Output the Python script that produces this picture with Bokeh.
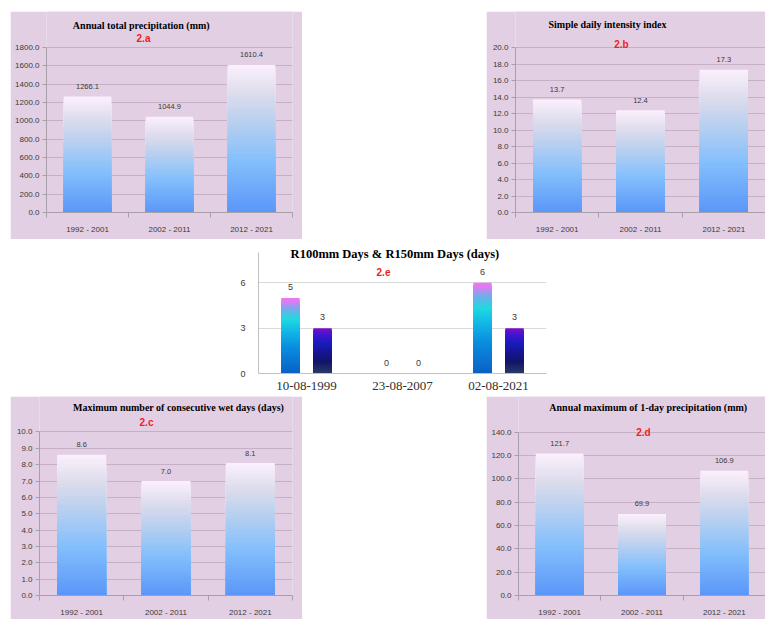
from bokeh.plotting import figure
from bokeh.layouts import column, row, Spacer
from bokeh.models import (ColumnDataSource, FixedTicker, PrintfTickFormatter,
                          Range1d, Label, LabelSet)
from bokeh.core.properties import value
from bokeh.embed import file_html
from bokeh.resources import INLINE

# ---------------- data ----------------
periods = ["1992 - 2001", "2002 - 2011", "2012 - 2021"]
prcptot = [1266.1, 1044.9, 1610.4]
sdii = [13.7, 12.4, 17.3]
cwd = [8.6, 7.0, 8.1]
rx1day = [121.7, 69.9, 106.9]

event_dates = ["10-08-1999", "23-08-2007", "02-08-2021"]
r100 = [5, 0, 6]
r150 = [3, 0, 3]

# ---------------- style ----------------
PANEL_BG = "#e3cfe3"
GRID = "#c6b0c6"
AXIS = "#a8a0a8"
TXT = "#3a3a3a"

BAR_STOPS = [(0.0, "#5a96f8"), (0.35, "#84bffc"), (0.6, "#b6cff0"),
             (0.8, "#dcdcec"), (1.0, "#fcf0fc")]
R100_STOPS = [(0.0, "#0a60c6"), (0.35, "#0a8ede"), (0.6, "#14c0e6"),
              (0.72, "#20d8e0"), (0.86, "#7aa8ec"), (0.95, "#e07af2"), (1.0, "#ec78f2")]
R150_STOPS = [(0.0, "#2a3c6a"), (0.25, "#121468"), (0.45, "#15168e"),
              (0.7, "#1c1cc4"), (0.88, "#4a14d0"), (1.0, "#7c10c8")]

N_SLICES = 48


def hex2rgb(h):
    h = h.lstrip("#")
    return tuple(int(h[i:i + 2], 16) for i in (0, 2, 4))


def grad_color(stops, t):
    for (t0, c0), (t1, c1) in zip(stops[:-1], stops[1:]):
        if t <= t1:
            f = (t - t0) / (t1 - t0) if t1 > t0 else 0
            a, b = hex2rgb(c0), hex2rgb(c1)
            r = [round(a[k] + (b[k] - a[k]) * f) for k in range(3)]
            return "#%02x%02x%02x" % tuple(r)
    return stops[-1][1]


def gradient_bars(p, xs, vals, width, stops):
    # each bar is painted as nested rectangles from 0 up to a fraction of its
    # value, tallest first, so that the colours form a seamless gradient
    L, R, B, T, C = [], [], [], [], []
    for x, v in zip(xs, vals):
        if v <= 0:
            continue
        for i in reversed(range(N_SLICES)):
            L.append(x - width / 2)
            R.append(x + width / 2)
            B.append(0)
            T.append(v * (i + 1) / N_SLICES)
            C.append(grad_color(stops, (i + 0.5) / N_SLICES))
    src = ColumnDataSource(dict(left=L, right=R, bottom=B, top=T, color=C))
    p.quad(left="left", right="right", bottom="bottom", top="top", source=src,
           fill_color="color", line_color=None)


def pink_panel(width, height, borders, cats, vals, ymax, ystep, title,
               tag, title_pos, tag_pos):
    bl, br, bt, bb = borders
    # the frame reaches the top of the panel so the titles are not clipped;
    # the data area (0..ymax) ends bt pixels below the top
    ytop = ymax * (height - bb) / (height - bt - bb)
    p = figure(width=width, height=height, output_backend="svg",
               toolbar_location=None, x_range=Range1d(0.5, len(cats) + 0.5),
               y_range=Range1d(0, ytop), min_border_left=bl,
               min_border_right=br, min_border_top=0, min_border_bottom=bb)
    p.background_fill_color = PANEL_BG
    p.border_fill_color = PANEL_BG
    p.outline_line_color = None
    xs = [i + 1 for i in range(len(cats))]
    gradient_bars(p, xs, vals, 0.58, BAR_STOPS)

    src = ColumnDataSource(dict(x=xs, y=vals, t=["%.1f" % v for v in vals]))
    p.add_layout(LabelSet(x="x", y="y", text="t", source=src, y_offset=10,
                          text_align="center", text_baseline="middle",
                          text_font=value("Liberation Sans"),
                          text_font_size="7.5px", text_color=TXT))

    # axes
    p.xgrid.visible = False
    p.ygrid.grid_line_color = GRID
    p.ygrid.grid_line_width = 1
    nt = int(round(ymax / ystep))
    p.yaxis.ticker = FixedTicker(ticks=[ystep * k for k in range(nt + 1)])
    p.yaxis.bounds = (0, ymax)
    p.yaxis.formatter = PrintfTickFormatter(format="%.1f")
    p.yaxis.axis_line_color = AXIS
    p.yaxis.major_tick_line_color = AXIS
    p.yaxis.major_tick_out = 4
    p.yaxis.major_tick_in = 0
    p.yaxis.minor_tick_line_color = None
    p.yaxis.major_label_text_font = "Liberation Sans"
    p.yaxis.major_label_text_font_size = "8px"
    p.yaxis.major_label_text_color = TXT
    p.yaxis.major_label_standoff = 3

    p.xaxis.ticker = FixedTicker(ticks=xs,
                                 minor_ticks=[x - 0.5 for x in xs] + [xs[-1] + 0.5])
    p.xaxis.major_label_overrides = {x: c for x, c in zip(xs, cats)}
    p.xaxis.axis_line_color = AXIS
    p.xaxis.major_tick_line_color = None
    p.xaxis.minor_tick_line_color = AXIS
    p.xaxis.minor_tick_out = 5
    p.xaxis.minor_tick_in = 0
    p.xaxis.major_label_text_font = "Liberation Sans"
    p.xaxis.major_label_text_font_size = "8px"
    p.xaxis.major_label_text_color = TXT
    p.xaxis.major_label_standoff = 6

    p.add_layout(Label(x=title_pos[0], y=title_pos[1], x_units="screen",
                       y_units="screen", text=title, text_align="center",
                       text_baseline="middle", text_font="Liberation Serif",
                       text_font_style="bold", text_font_size="10px",
                       text_color="#000000"))
    p.add_layout(Label(x=tag_pos[0], y=tag_pos[1], x_units="screen",
                       y_units="screen", text=tag, text_align="center",
                       text_baseline="middle", text_font="Liberation Sans",
                       text_font_style="bold", text_font_size="10px",
                       text_color="#ee1c1c"))
    return p


pa = pink_panel(292, 228, (36, 10, 36, 27), periods, prcptot, 1800, 200,
                "Annual  total precipitation (mm)", "2.a", (96, 187), (97, 174))
pb = pink_panel(279, 228, (29, 0, 36, 27), periods, sdii, 20, 2,
                "Simple daily intensity index", "2.b", (92, 188), (106, 168))
pc = pink_panel(292, 223, (29, 10, 36, 21), periods, cwd, 10, 1,
                "Maximum number of consecutive wet days (days)", "2.c",
                (139, 188), (107, 173))
pd = pink_panel(279, 223, (32, 0, 36, 22), periods, rx1day, 140, 20,
                "Annual  maximum of 1-day precipitation (mm)", "2.d",
                (131, 188), (125, 163))

# ---------------- middle panel (2.e) ----------------
E_H, E_BT, E_BB, E_MAX = 157, 13, 23, 8
pe = figure(width=330, height=E_H, output_backend="svg", toolbar_location=None,
            x_range=Range1d(0.5, len(event_dates) + 0.5),
            y_range=Range1d(0, E_MAX * (E_H - E_BB) / (E_H - E_BT - E_BB)),
            min_border_left=38, min_border_right=4, min_border_top=0,
            min_border_bottom=E_BB)
pe.background_fill_color = "#ffffff"
pe.border_fill_color = "#ffffff"
pe.outline_line_color = None
ex = [i + 1 for i in range(len(event_dates))]
off, bw = 0.167, 0.19
gradient_bars(pe, [x - off for x in ex], r100, bw, R100_STOPS)
gradient_bars(pe, [x + off for x in ex], r150, bw, R150_STOPS)
lab_src = ColumnDataSource(dict(
    x=[x - off for x in ex] + [x + off for x in ex],
    y=r100 + r150,
    t=["%d" % v for v in r100 + r150]))
pe.add_layout(LabelSet(x="x", y="y", text="t", source=lab_src, y_offset=11,
                       text_align="center", text_baseline="middle",
                       text_font=value("Liberation Sans"), text_font_size="9px",
                       text_color=TXT))
pe.xgrid.visible = False
pe.ygrid.grid_line_color = "#d9d9d9"
pe.yaxis.ticker = FixedTicker(ticks=[0, 3, 6])
pe.yaxis.bounds = (0, E_MAX)
pe.yaxis.axis_line_color = "#c0c0c0"
pe.yaxis.major_tick_line_color = None
pe.yaxis.minor_tick_line_color = None
pe.yaxis.major_label_text_font = "Liberation Sans"
pe.yaxis.major_label_text_font_size = "9px"
pe.yaxis.major_label_text_color = TXT
pe.yaxis.major_label_standoff = 7
pe.xaxis.ticker = FixedTicker(ticks=ex)
pe.xaxis.major_label_overrides = {x: d for x, d in zip(ex, event_dates)}
pe.xaxis.axis_line_color = "#c0c0c0"
pe.xaxis.major_tick_line_color = None
pe.xaxis.minor_tick_line_color = None
pe.xaxis.major_label_text_font = "Liberation Serif"
pe.xaxis.major_label_text_font_size = "13px"
pe.xaxis.major_label_text_color = "#303030"
pe.xaxis.major_label_standoff = 2
pe.add_layout(Label(x=138, y=120, x_units="screen", y_units="screen",
                    text="R100mm Days &  R150mm Days (days)", text_align="center",
                    text_baseline="middle", text_font="Liberation Serif",
                    text_font_style="bold", text_font_size="12.5px",
                    text_color="#000000"))
pe.add_layout(Label(x=125, y=102, x_units="screen", y_units="screen",
                    text="2.e", text_align="center", text_baseline="middle",
                    text_font="Liberation Sans", text_font_style="bold",
                    text_font_size="10px", text_color="#ee1c1c"))

layout = column(
    Spacer(width=765, height=11),
    row(Spacer(width=10, height=228), pa, Spacer(width=184, height=228), pb, spacing=0),
    row(Spacer(width=220, height=157), pe, spacing=0),
    row(Spacer(width=10, height=223), pc, Spacer(width=184, height=223), pd, spacing=0),
    spacing=0,
)

open("out.html", "w").write(file_html(layout, INLINE))
